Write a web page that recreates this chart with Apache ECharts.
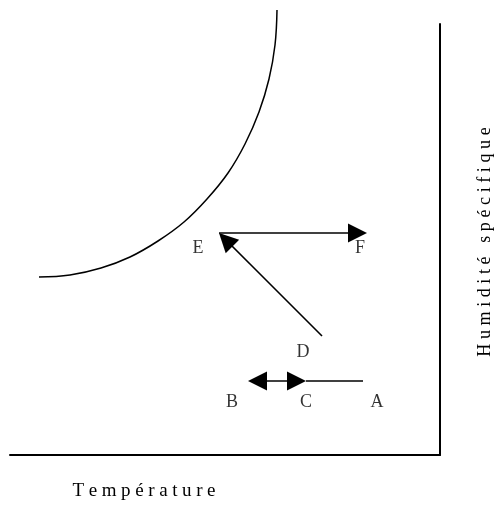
<!DOCTYPE html>
<html>
<head>
<meta charset="utf-8">
<script src="https://cdn.jsdelivr.net/npm/echarts@6/dist/echarts.min.js"></script>
<style>
html,body{margin:0;padding:0;background:#fff;}
#chart{width:498px;height:506px;}
</style>
</head>
<body>
<div id="chart"></div>
<script>
// Saturation curve (temperature, specific humidity) in chart units
const curveT = [267, 265, 259, 249, 235, 218, 197, 174, 148, 120, 91, 60, 29];
const curveH = [445, 410, 376, 343, 311, 282, 256, 233, 214, 198, 187, 180, 178];

// State point labels
const pointNames = ['A', 'B', 'C', 'D', 'E', 'F'];
const pointT = [367, 222, 296, 293, 188, 350];
const pointH = [53, 53, 53, 103, 207, 207];

// Transformations: from -> to (arrow tips), with arrowheads [start, end]
const segFrom = [[353, 74], [238, 74], [312, 119], [209, 222]];
const segTo   = [[296, 74], [296, 74], [209, 222], [357, 222]];
const segHeads = [['none', 'none'], ['triangle', 'triangle'], ['none', 'triangle'], ['none', 'triangle']];

const xTitle = 'Température';
const yTitle = 'Humidité spécifique';

const serif = 'Liberation Serif';
const HEAD = 19;

function spaced(str) {
  return str.split('').map(function (ch) { return '{s|' + ch + '}'; }).join('');
}

// ECharts centres the arrow symbol on the end point: pull the end back by half a head
function pullBack(p, q, hasHead) {
  if (hasHead === 'none') return p;
  const dx = p[0] - q[0], dy = p[1] - q[1];
  const len = Math.sqrt(dx * dx + dy * dy);
  const k = (HEAD / 2) / len;
  return [p[0] - dx * k, p[1] - dy * k];
}

const chart = echarts.init(document.getElementById('chart'), null, {renderer: 'canvas'});

const lineSeries = segFrom.map(function (f, i) {
  const t = segTo[i];
  const a = pullBack(f, t, segHeads[i][0]);
  const b = pullBack(t, f, segHeads[i][1]);
  return {
    type: 'lines',
    coordinateSystem: 'cartesian2d',
    symbol: segHeads[i],
    symbolSize: [HEAD, HEAD],
    lineStyle: {color: '#000', width: 1.6, opacity: 1},
    itemStyle: {color: '#000'},
    silent: true,
    clip: false,
    data: [{coords: [a, b]}]
  };
});

chart.setOption({
  animation: false,
  backgroundColor: '#fff',
  grid: {left: 10, right: 58, top: 24, bottom: 51},
  xAxis: {
    type: 'value', min: 0, max: 430, position: 'bottom',
    axisLine: {show: true, onZero: false, lineStyle: {color: '#000', width: 2}},
    axisTick: {show: false}, axisLabel: {show: false}, splitLine: {show: false}
  },
  yAxis: {
    type: 'value', min: 0, max: 431, position: 'right',
    axisLine: {show: true, onZero: false, lineStyle: {color: '#000', width: 2}},
    axisTick: {show: false}, axisLabel: {show: false}, splitLine: {show: false}
  },
  series: [
    {
      type: 'line',
      data: curveT.map(function (t, i) { return [t, curveH[i]]; }),
      smooth: 0.4,
      showSymbol: false,
      clip: false,
      silent: true,
      lineStyle: {color: '#000', width: 1.5}
    },
    {
      type: 'scatter',
      symbolSize: 1,
      itemStyle: {color: 'rgba(0,0,0,0)'},
      silent: true,
      data: pointNames.map(function (n, i) { return {name: n, value: [pointT[i], pointH[i]]}; }),
      label: {
        show: true, position: 'inside',
        formatter: function (p) { return p.name; },
        color: '#000', fontFamily: serif, fontSize: 18
      }
    }
  ].concat(lineSeries),
  graphic: [
    {
      type: 'text', x: 144, y: 491,
      style: {
        text: spaced(xTitle), align: 'center', verticalAlign: 'middle',
        rich: {s: {fontFamily: serif, fontSize: 19, fill: '#000', padding: [0, 2.3, 0, 2.3]}}
      }
    },
    {
      type: 'text', x: 485, y: 242, rotation: Math.PI / 2,
      style: {
        text: spaced(yTitle), align: 'center', verticalAlign: 'middle',
        rich: {s: {fontFamily: serif, fontSize: 18, fill: '#000', padding: [0, 2.3, 0, 2.3]}}
      }
    }
  ]
});
</script>
</body>
</html>
